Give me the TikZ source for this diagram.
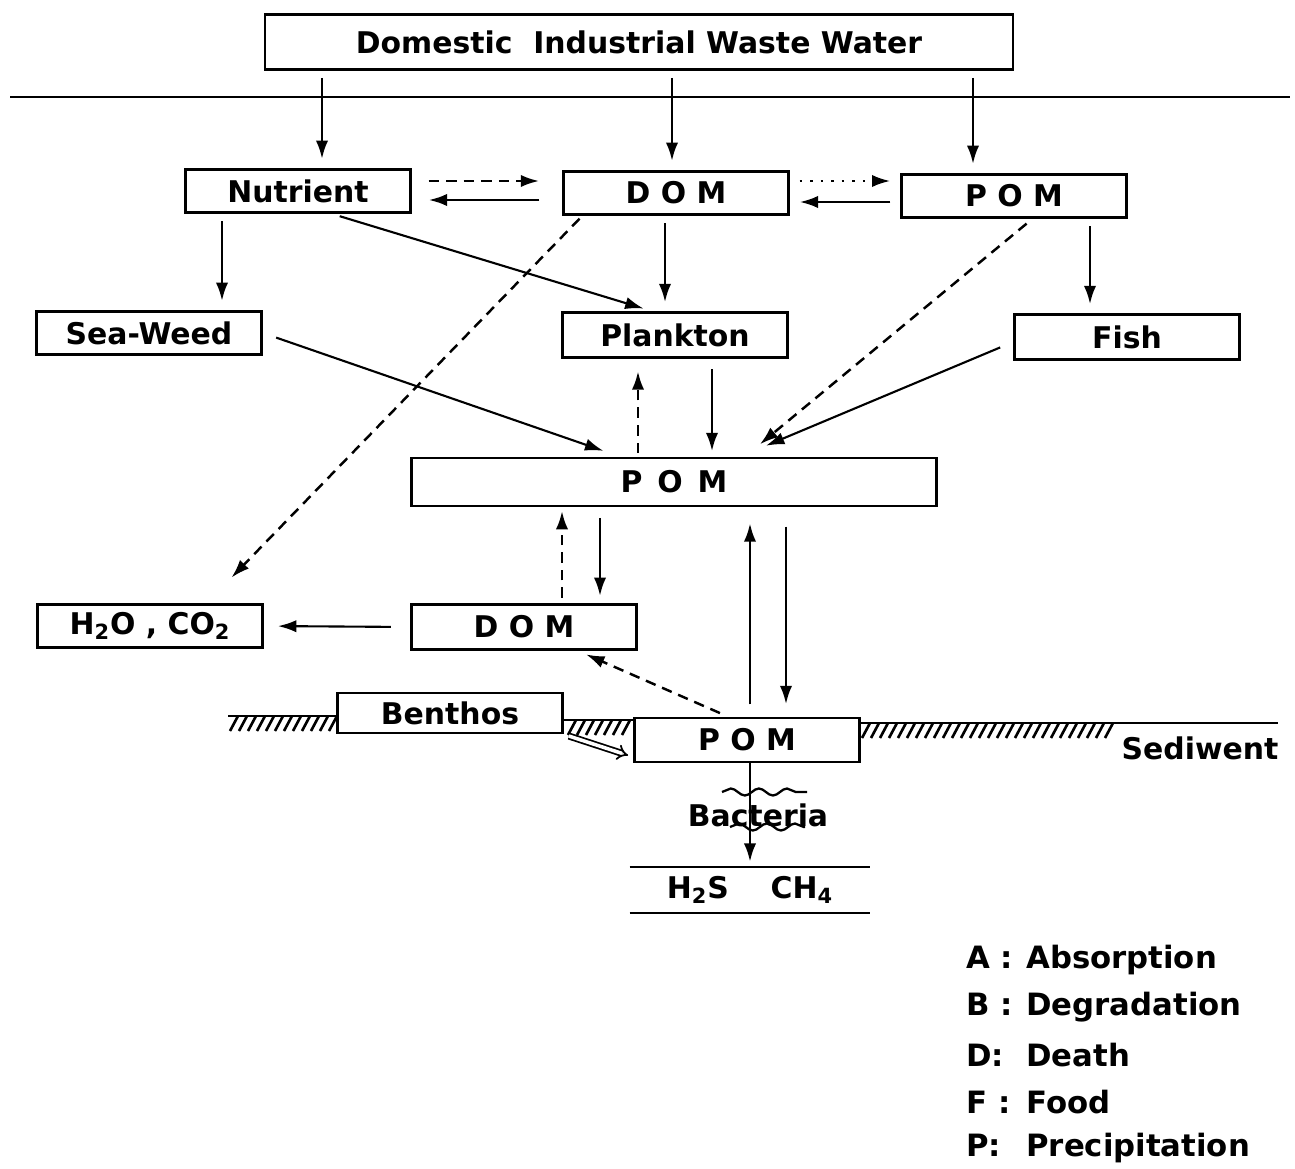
\documentclass[tikz,border=0pt]{standalone}
\usepackage{fontspec}
\setmainfont{DejaVu Sans}
\usetikzlibrary{arrows.meta,decorations.pathmorphing}

\begin{document}
\begin{tikzpicture}[
  x=0.02cm, y=-0.02cm,
  box/.style={rectangle, draw, line width=1.6pt, inner sep=0pt,
              minimum width=4.5cm, minimum height=0.87cm,
              font=\fontsize{17}{19}\selectfont\bfseries},
  arr/.style={-{Latex[length=10.5pt,width=7pt]}, line width=1.6pt,
              shorten <=4pt, shorten >=5pt},
  dsh/.style={dash pattern=on 6pt off 4pt},
  dots/.style={dash pattern=on 1.5pt off 4.5pt},
  lab/.style={inner sep=0pt, font=\fontsize{17}{19}\selectfont\bfseries},
  leg/.style={anchor=west, inner sep=0pt, font=\fontsize{17.5}{19}\selectfont\bfseries},
  hatch/.style={line width=1.5pt},
  wave/.style={line width=1.3pt, decorate,
               decoration={snake, amplitude=2pt, segment length=16pt}}
]
\useasboundingbox (0,0) rectangle (1295,1169);

\node[box, minimum width=14.96cm, minimum height=1.1cm] (src) at (639,42) {Domestic\ \ Industrial Waste Water};
\node[box] (nut) at (298,191) {Nutrient};
\node[box] (dom1) at (676,193) {D O M};
\node[box] (pom1) at (1014,196) {P O M};
\node[box] (weed) at (149,333) {Sea-Weed};
\node[box, minimum height=0.9cm] (plank) at (675,335) {Plankton};
\node[box, minimum height=0.9cm] (fish) at (1127,337) {Fish};
\node[box, minimum width=10.5cm, minimum height=0.96cm] (pom2) at (674,482) {P\enspace O\enspace M};
\node[box] (gas) at (150,626) {H\textsubscript{2}O , CO\textsubscript{2}};
\node[box, minimum height=0.9cm] (dom2) at (524,627) {D O M};
\node[box, minimum height=0.8cm] (benth) at (450,713) {Benthos};
\node[box, minimum height=0.88cm] (pom3) at (747,740) {P O M};
\node[lab, minimum width=4.8cm, minimum height=0.9cm] (chem) at (750,890) {H\textsubscript{2}S\hspace{1.4em}CH\textsubscript{4}};
\node[lab] (bact) at (758,815) {Bacteria};
\node[lab] (sed) at (1200,748) {Sediwent};

\node[leg] (la) at (966,960) {\makebox[1.95em][l]{A :}Absorption};
\node[leg] (lb) at (966,1007) {\makebox[1.95em][l]{B :}Degradation};
\node[leg] (ld) at (966,1055) {\makebox[1.95em][l]{D:}Death};
\node[leg] (lf) at (966,1102) {\makebox[1.95em][l]{F :}Food};
\node[leg] (lp) at (966,1148) {\makebox[1.95em][l]{P:}Precipitation};

\draw[line width=1.2pt] (10,97) -- (1290,97);
\draw[line width=1.4pt] (228,716) -- (benth.west |- 0,716);
\draw[line width=1.4pt] (benth.east |- 0,720) -- (pom3.west |- 0,720);
\draw[line width=1.4pt] (pom3.east |- 0,723) -- (1278,723);
\foreach \x in {238,247,...,338} \draw[hatch] (\x,716) -- ++(-8,15);
\foreach \x in {576,585,...,632} \draw[hatch] (\x,720) -- ++(-8,15);
\foreach \x in {870,879,...,1115} \draw[hatch] (\x,723) -- ++(-8,15);
\draw[line width=1.3pt] (chem.north west) -- (chem.north east);
\draw[line width=1.3pt] (chem.south west) -- (chem.south east);

\draw[arr] (src.south -| 322,0) -- (nut.north -| 322,0);
\draw[arr] (src.south -| 672,0) -- (dom1.north -| 672,0);
\draw[arr] (src.south -| 973,0) -- (pom1.north -| 973,0);
\draw[arr, dsh, shorten <=9.5pt, shorten >=13pt] (nut.east |- 0,181) -- (dom1.west |- 0,181);
\draw[arr, shorten <=13pt, shorten >=9.5pt] (dom1.west |- 0,200) -- (nut.east |- 0,200);
\draw[arr, dots, shorten <=5.5pt, shorten >=5.5pt] (dom1.east |- 0,181) -- (pom1.west |- 0,181);
\draw[arr, shorten <=5.5pt, shorten >=5.5pt] (pom1.west |- 0,202) -- (dom1.east |- 0,202);
\draw[arr] (nut.south -| 222,0) -- (weed.north -| 222,0);
\draw[arr, line width=1.2pt] (nut.south -| 333,0) -- (plank.north -| 652,0);
\draw[arr] (dom1.south -| 665,0) -- (plank.north -| 665,0);
\draw[arr] (pom1.south -| 1090,0) -- (fish.north -| 1090,0);
\draw[arr, dsh, line width=1.4pt, shorten <=2pt, shorten >=20pt] (dom1.south -| 582,0) -- (gas.north -| 207,0);
\draw[arr, dsh, line width=1.4pt, shorten <=4pt, shorten >=11pt] (pom1.south -| 1032,0) -- (pom2.north -| 745,0);
\draw[arr, line width=1.2pt, shorten <=8pt, shorten >=10pt] (weed.east) -- (pom2.north -| 620,0);
\draw[arr, line width=1.2pt, shorten <=8pt, shorten >=16pt] (fish.west |- 0,342) -- (pom2.north -| 740,0);
\draw[arr, dsh, shorten <=2pt, shorten >=7pt] (pom2.north -| 638,0) -- (plank.south -| 638,0);
\draw[arr, shorten <=6pt, shorten >=3pt] (plank.south -| 712,0) -- (pom2.north -| 712,0);
\draw[arr, dsh, shorten <=3pt, shorten >=2pt] (dom2.north -| 562,0) -- (pom2.south -| 562,0);
\draw[arr, shorten <=6pt, shorten >=4pt] (pom2.south -| 600,0) -- (dom2.north -| 600,0);
\draw[arr, shorten <=7pt, shorten >=9pt] (pom3.north -| 750,0) -- (pom2.south -| 750,0);
\draw[arr, shorten <=11pt, shorten >=7pt] (pom2.south -| 786,0) -- (pom3.north -| 786,0);
\draw[arr, line width=1.2pt, shorten <=11pt, shorten >=8pt] (dom2.west) -- (gas.east);
\draw[arr, dsh, line width=1.4pt, shorten <=5pt, shorten >=5pt] (pom3.north -| 728,0) -- (dom2.south -| 578,0);
\draw[line width=1pt, double, double distance=2pt, -{Implies}, shorten <=3pt, shorten >=3pt] (benth.south east) -- (pom3.west |- 0,757);
\draw[arr, shorten <=0pt, shorten >=3pt] (pom3.south -| 750,0) -- (chem.north -| 750,0);
\draw[wave] (722,792) -- (807,792);
\draw[wave] (730,827) -- (805,827);
\end{tikzpicture}
\end{document}
